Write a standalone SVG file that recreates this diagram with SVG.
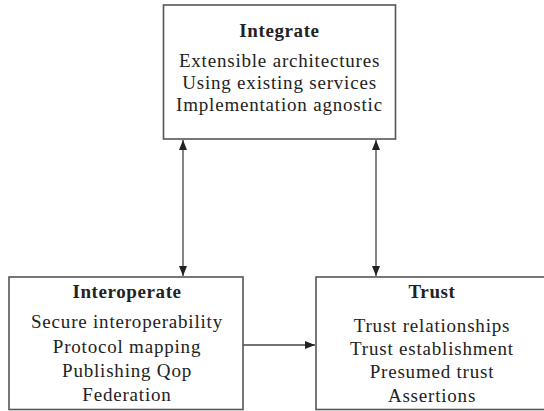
<svg xmlns="http://www.w3.org/2000/svg" width="544" height="411" viewBox="0 0 544 411">
<style>
.box{fill:#fff;stroke:#555;stroke-width:1.6}
.t{font-family:"Liberation Serif",serif;font-size:19px;letter-spacing:0.8px;fill:#222;text-anchor:middle}
.h{font-weight:bold;font-size:19px;letter-spacing:0.6px}
.c{stroke:#444;stroke-width:1.3;fill:none}
</style>
<defs>
<marker id="ah" viewBox="0 0 10 8" refX="10" refY="4" markerWidth="10" markerHeight="8" markerUnits="userSpaceOnUse" orient="auto-start-reverse">
<path d="M0,0 L10,4 L0,8 Z" fill="#222"/>
</marker>
</defs>
<rect width="544" height="411" fill="#fff"/>
<g id="connectors">
<line class="c" x1="183" y1="140" x2="183" y2="276" marker-start="url(#ah)" marker-end="url(#ah)"/>
<line class="c" x1="376" y1="140" x2="376" y2="276" marker-start="url(#ah)" marker-end="url(#ah)"/>
<line class="c" x1="243" y1="345" x2="315" y2="345" marker-end="url(#ah)"/>
</g>
<g id="integrate">
<rect class="box" x="163.5" y="5" width="232" height="134"/>
<text class="t h" x="279.5" y="37">Integrate</text>
<text class="t" x="279.5" y="67">Extensible architectures</text>
<text class="t" x="279.5" y="89">Using existing services</text>
<text class="t" x="279.5" y="111">Implementation agnostic</text>
</g>
<g id="interoperate">
<rect class="box" x="9" y="277" width="234" height="132.5"/>
<text class="t h" x="127" y="298">Interoperate</text>
<text class="t" x="127" y="328">Secure interoperability</text>
<text class="t" x="127" y="353">Protocol mapping</text>
<text class="t" x="127" y="377">Publishing Qop</text>
<text class="t" x="127" y="401">Federation</text>
</g>
<g id="trust">
<rect class="box" x="316" y="277" width="232" height="132.5"/>
<text class="t h" x="432" y="298">Trust</text>
<text class="t" x="432" y="332">Trust relationships</text>
<text class="t" x="432" y="355">Trust establishment</text>
<text class="t" x="432" y="378">Presumed trust</text>
<text class="t" x="432" y="402">Assertions</text>
</g>
</svg>
